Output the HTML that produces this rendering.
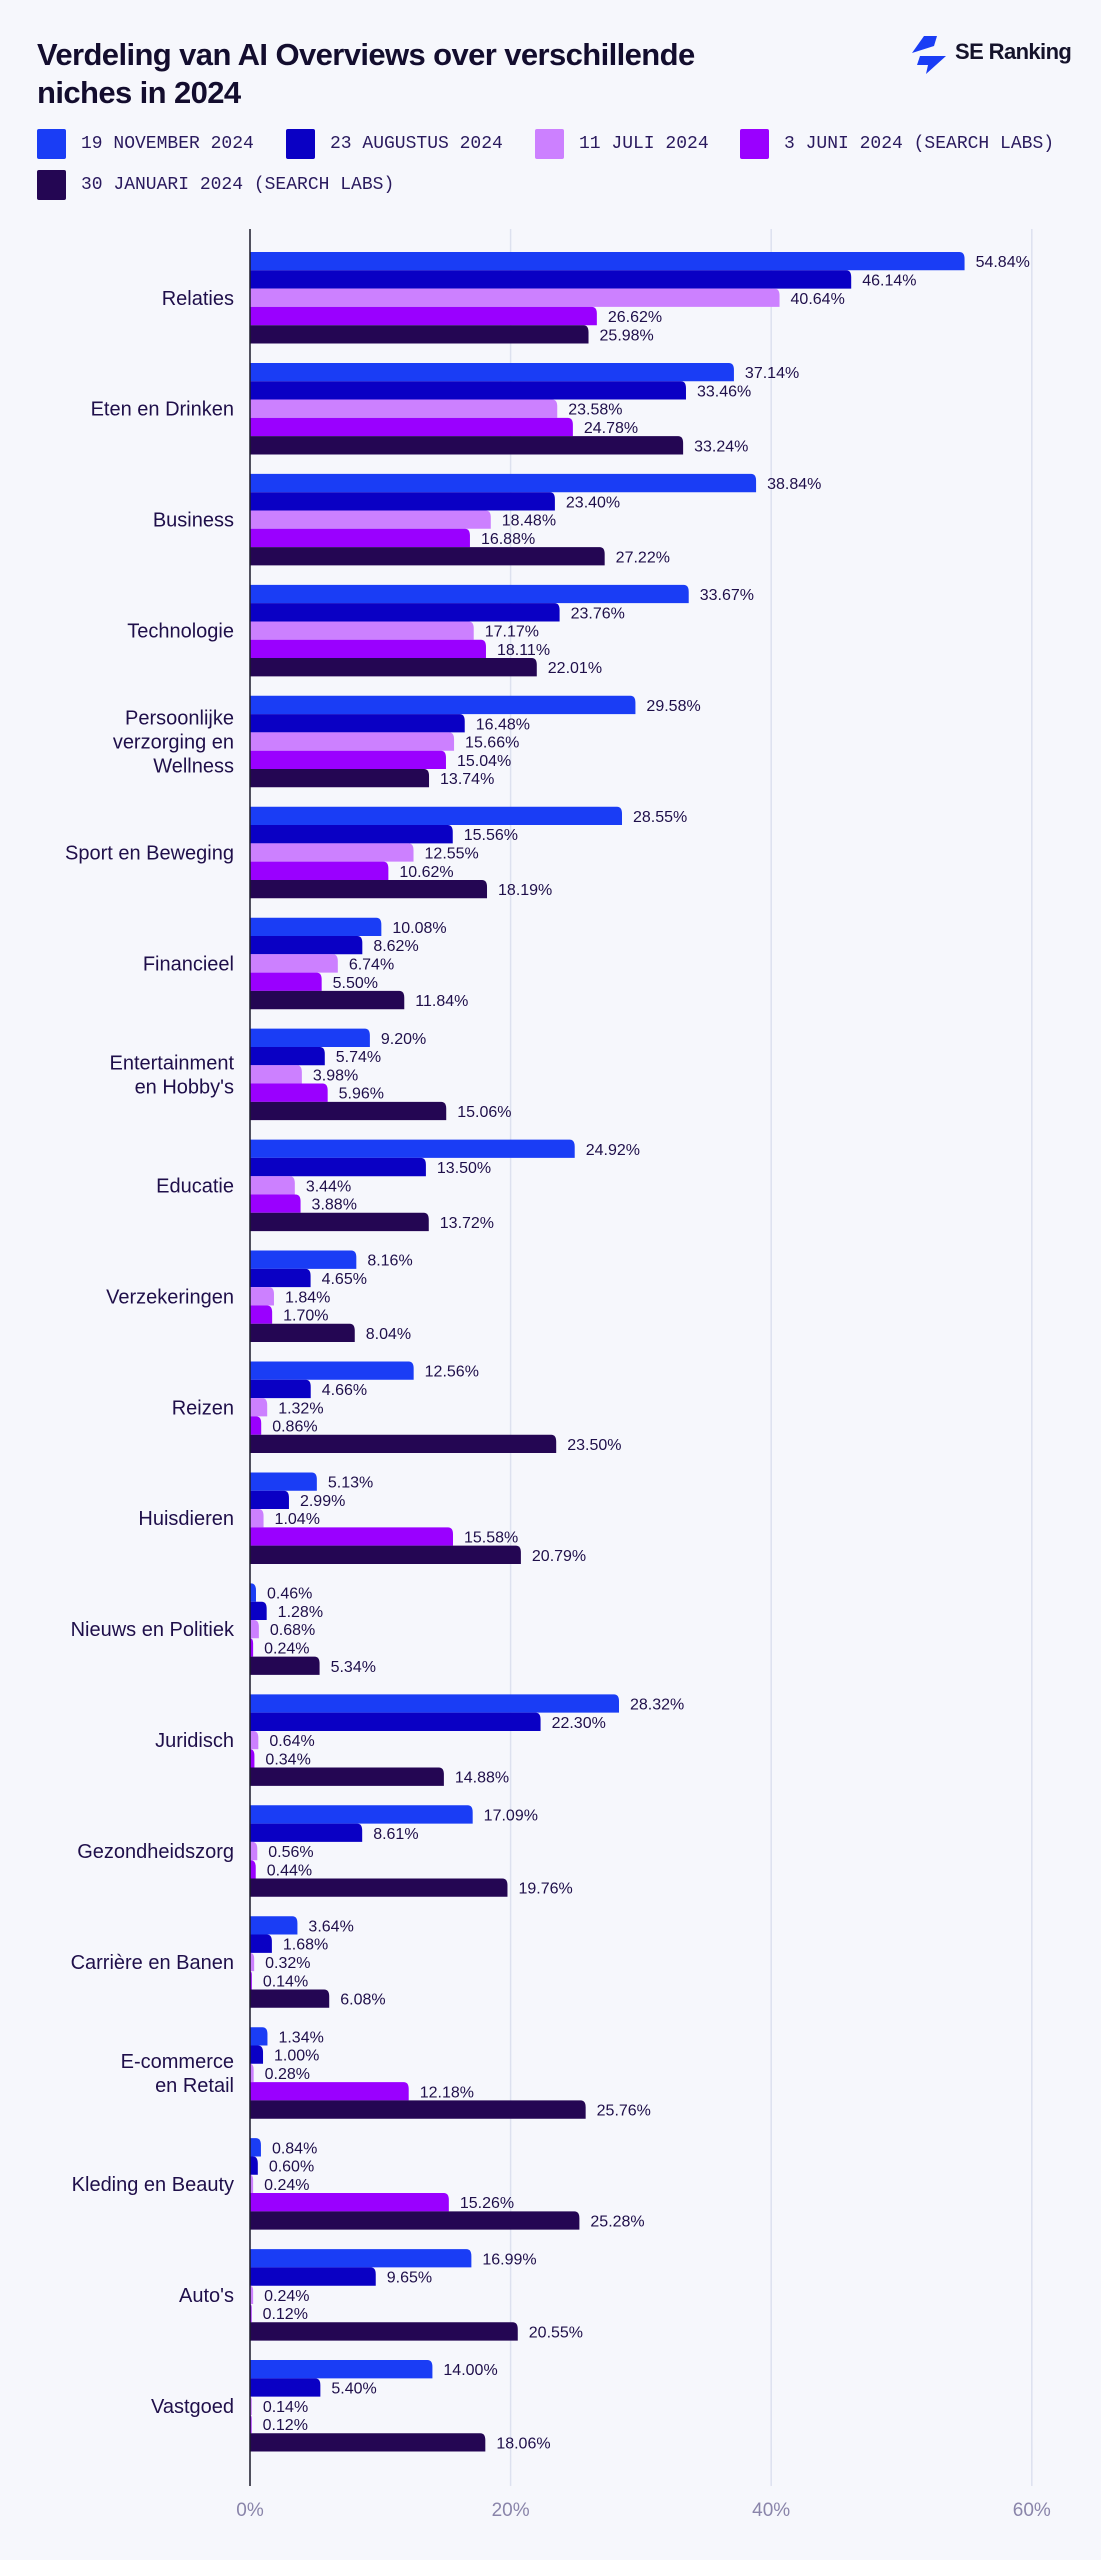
<!DOCTYPE html>
<html><head><meta charset="utf-8">
<style>
html,body{margin:0;padding:0;background:#f6f7fc;}
body{width:1101px;height:2560px;position:relative;overflow:hidden;font-family:"Liberation Sans",sans-serif;color:#1f0f4a;}
h1{position:absolute;left:37px;top:36px;margin:0;font-size:31px;line-height:38px;font-weight:bold;color:#130d2e;letter-spacing:-0.6px;width:760px;}
.logo{position:absolute;left:912px;top:36px;}
.logo-text{position:absolute;left:955px;top:39px;font-size:22px;font-weight:bold;color:#15132b;letter-spacing:-0.6px;}
.leg{position:absolute;display:flex;align-items:center;font-family:"Liberation Mono",monospace;font-size:18px;color:#2a1a5e;}
.leg span.sw{display:inline-block;width:29px;height:30px;border-radius:2px;margin-right:15px;}
svg text{font-family:"Liberation Sans",sans-serif;}
</style></head>
<body>
<h1>Verdeling van AI Overviews over verschillende niches in 2024</h1>
<svg class="logo" width="36" height="38" viewBox="0 0 36 38">
<path d="M12 0 L25 0 L22 10 L0 17 Z" fill="#1a3df5"/>
<path d="M8 20 L34 20 L14 38 L16 29 L5 29 Z" fill="#1a3df5"/>
</svg>
<div class="logo-text">SE Ranking</div>

<div class="leg" style="left:37px;top:129px"><span class="sw" style="background:#1a3df5"></span>19 NOVEMBER 2024</div>
<div class="leg" style="left:286px;top:129px"><span class="sw" style="background:#0a00c4"></span>23 AUGUSTUS 2024</div>
<div class="leg" style="left:535px;top:129px"><span class="sw" style="background:#cc80ff"></span>11 JULI 2024</div>
<div class="leg" style="left:740px;top:129px"><span class="sw" style="background:#9a00ff"></span>3 JUNI 2024 (SEARCH LABS)</div>
<div class="leg" style="left:37px;top:170px"><span class="sw" style="background:#240653"></span>30 JANUARI 2024 (SEARCH LABS)</div>

<svg id="chart" width="1101" height="2560" style="position:absolute;left:0;top:0"></svg>

<script>
const categories = [["Relaties"],["Eten en Drinken"],["Business"],["Technologie"],["Persoonlijke","verzorging en","Wellness"],["Sport en Beweging"],["Financieel"],["Entertainment","en Hobby's"],["Educatie"],["Verzekeringen"],["Reizen"],["Huisdieren"],["Nieuws en Politiek"],["Juridisch"],["Gezondheidszorg"],["Carrière en Banen"],["E-commerce","en Retail"],["Kleding en Beauty"],["Auto's"],["Vastgoed"]];
const novValues = [54.84,37.14,38.84,33.67,29.58,28.55,10.08,9.20,24.92,8.16,12.56,5.13,0.46,28.32,17.09,3.64,1.34,0.84,16.99,14.00];
const augValues = [46.14,33.46,23.40,23.76,16.48,15.56,8.62,5.74,13.50,4.65,4.66,2.99,1.28,22.30,8.61,1.68,1.00,0.60,9.65,5.40];
const julValues = [40.64,23.58,18.48,17.17,15.66,12.55,6.74,3.98,3.44,1.84,1.32,1.04,0.68,0.64,0.56,0.32,0.28,0.24,0.24,0.14];
const junValues = [26.62,24.78,16.88,18.11,15.04,10.62,5.50,5.96,3.88,1.70,0.86,15.58,0.24,0.34,0.44,0.14,12.18,15.26,0.12,0.12];
const janValues = [25.98,33.24,27.22,22.01,13.74,18.19,11.84,15.06,13.72,8.04,23.50,20.79,5.34,14.88,19.76,6.08,25.76,25.28,20.55,18.06];
const tickValues = [0,20,40,60];
const tickLabels = ["0%","20%","40%","60%"];

const seriesNames = ["nov","aug","jul","jun","jan"];
const seriesColors = ["#1a3df5","#0a00c4","#cc80ff","#9a00ff","#240653"];
const series = [novValues,augValues,julValues,junValues,janValues];
const NS = "http://www.w3.org/2000/svg";
const svg = document.getElementById("chart");
const x0 = 250, pxPerPct = 13.03;
const x = v => x0 + v * pxPerPct;
const groupTop0 = 252, groupPitch = 110.95, barH = 18.3;
const axisTop = 229, axisBottom = 2486;
function mk(tag, attrs){const e=document.createElementNS(NS,tag);for(const k in attrs)e.setAttribute(k,attrs[k]);svg.appendChild(e);return e;}

tickValues.forEach((t,i)=>{
  if(t>0){
    const g = mk("line",{x1:x(t),x2:x(t),y1:axisTop,y2:axisBottom,stroke:"#dde1ef","stroke-width":1.5});
    
    
  }
  const tl = mk("text",{x:x(t),y:2516,"text-anchor":"middle","font-size":19,fill:"#8a85aa"});
  tl.textContent = tickLabels[i];
  
  
});

categories.forEach((lines,ci)=>{
  const top = groupTop0 + ci*groupPitch;
  const mid = top + barH*2.5;
  const lt = mk("text",{x:234,"text-anchor":"end","font-size":20,fill:"#1f0f4a"});
  
  
  const lh = 24;
  lines.forEach((ln,li)=>{
    const ts = document.createElementNS(NS,"tspan");
    ts.setAttribute("x",234);
    ts.setAttribute("y",mid + 7 + (li-(lines.length-1)/2)*lh);
    ts.textContent = ln;
    lt.appendChild(ts);
  });
  series.forEach((vals,si)=>{
    const v = vals[ci];
    const y = top + si*barH;
    const xe = x(v);
    const w = Math.max(xe - x0, 1.5);
    const c = Math.min(5, w);
    const bar = mk("path",{d:`M${x0} ${y} L${x0+w-c} ${y} Q${x0+w} ${y} ${x0+w} ${y+c+2} L${x0+w} ${y+barH} L${x0} ${y+barH} Z`,fill:seriesColors[si]});
    
    
    const vl = mk("text",{x:x0+w+11,y:y+barH/2+6,"font-size":16,fill:"#1f0f4a"});
    vl.textContent = v.toFixed(2)+"%";
    
    
  });
});
const ax = mk("line",{x1:x0,x2:x0,y1:axisTop,y2:axisBottom,stroke:"#1a1a2a","stroke-width":1.5});


</script>
</body></html>
